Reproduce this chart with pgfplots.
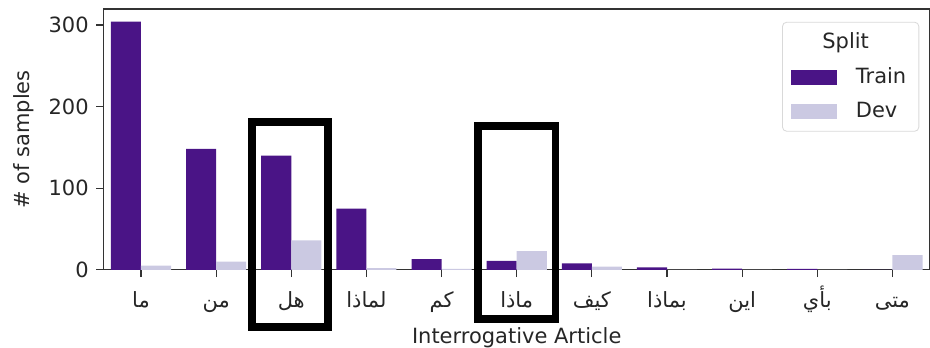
\documentclass[border=0pt]{standalone}
\usepackage{fontspec}
\setmainfont{DejaVu Sans}
\newfontfamily\arabicfont[Script=Arabic]{DejaVu Sans}
\TeXXeTstate=1
\usepackage{pgfplots}
\pgfplotsset{compat=1.18}
\usetikzlibrary{calc}
\definecolor{trainc}{HTML}{4A1486}
\definecolor{devc}{HTML}{CBC9E2}
\definecolor{spine}{HTML}{333333}
\newcommand\ar[1]{{\arabicfont\beginR #1\endR}}
\begin{document}
\begin{tikzpicture}
\begin{axis}[
  scale only axis,
  width=394pt, height=124.3pt,
  xmin=-0.5, xmax=10.5,
  ymin=0, ymax=319.5,
  axis line style={spine, line width=0.6pt},
  ybar, bar width=0.4,
  xtick={0,1,2,3,4,5,6,7,8,9,10},
  xticklabels={\ar{ما},\ar{من},\ar{هل},\ar{لماذا},\ar{كم},\ar{ماذا},\ar{كيف},\ar{بماذا},\ar{اين},\ar{بأي},\ar{متى}},
  ytick={0,100,200,300},
  tick align=outside,
  major tick length=3.5pt,
  tick style={spine, line width=0.6pt},
  xtick pos=bottom, ytick pos=left,
  /pgf/number format/assume math mode=true,
  yticklabel style={text=black!85},
  xticklabel style={text=black!85, anchor=base, yshift=-14.6pt},
  xlabel={Interrogative Article},
  ylabel={\# of samples},
  xlabel style={at={(axis description cs:0.5,0)}, anchor=base, yshift=-35.2pt, text=black!85},
  ylabel style={text=black!85},
  clip=false,
  legend cell align=left,
  legend style={at={(0.987,0.951)}, anchor=north east, draw=black!15, rounded corners=2pt, fill=white,
    row sep=3.5pt, inner xsep=4pt, inner ysep=3pt, text=black!85,
    /tikz/every odd column/.append style={column sep=7pt}},
]
\addlegendimage{empty legend}
\addlegendentry{\hspace*{-16pt}Split}
\addplot+[bar shift=-0.2, fill=trainc, draw=none,
  /pgfplots/legend image code/.code={\fill[trainc, sharp corners] (0pt,-3.6pt) rectangle (22pt,3.6pt);}]
  coordinates {(0,304) (1,148) (2,140) (3,75) (4,13) (5,11) (6,8) (7,3) (8,1.5) (9,1) (10,0)};
\addlegendentry{Train}
\addplot+[bar shift=0.2, fill=devc, draw=none,
  /pgfplots/legend image code/.code={\fill[devc, sharp corners] (0pt,-3.6pt) rectangle (22pt,3.6pt);}]
  coordinates {(0,5) (1,10) (2,36) (3,2) (4,1) (5,23) (6,4) (7,0) (8,0) (9,0) (10,18)};
\addlegendentry{Dev}
\draw[black, line width=3.8pt] (axis cs:1.473,180.5) rectangle (axis cs:2.484,-70.4);
\draw[black, line width=3.8pt] (axis cs:4.485,176) rectangle (axis cs:5.516,-60);
\end{axis}
\pgfresetboundingbox
\path ($(current axis.south west)+(-49.3pt,-37.1pt)$) rectangle ($(current axis.north east)+(0pt,4.3pt)$);
\end{tikzpicture}
\end{document}
